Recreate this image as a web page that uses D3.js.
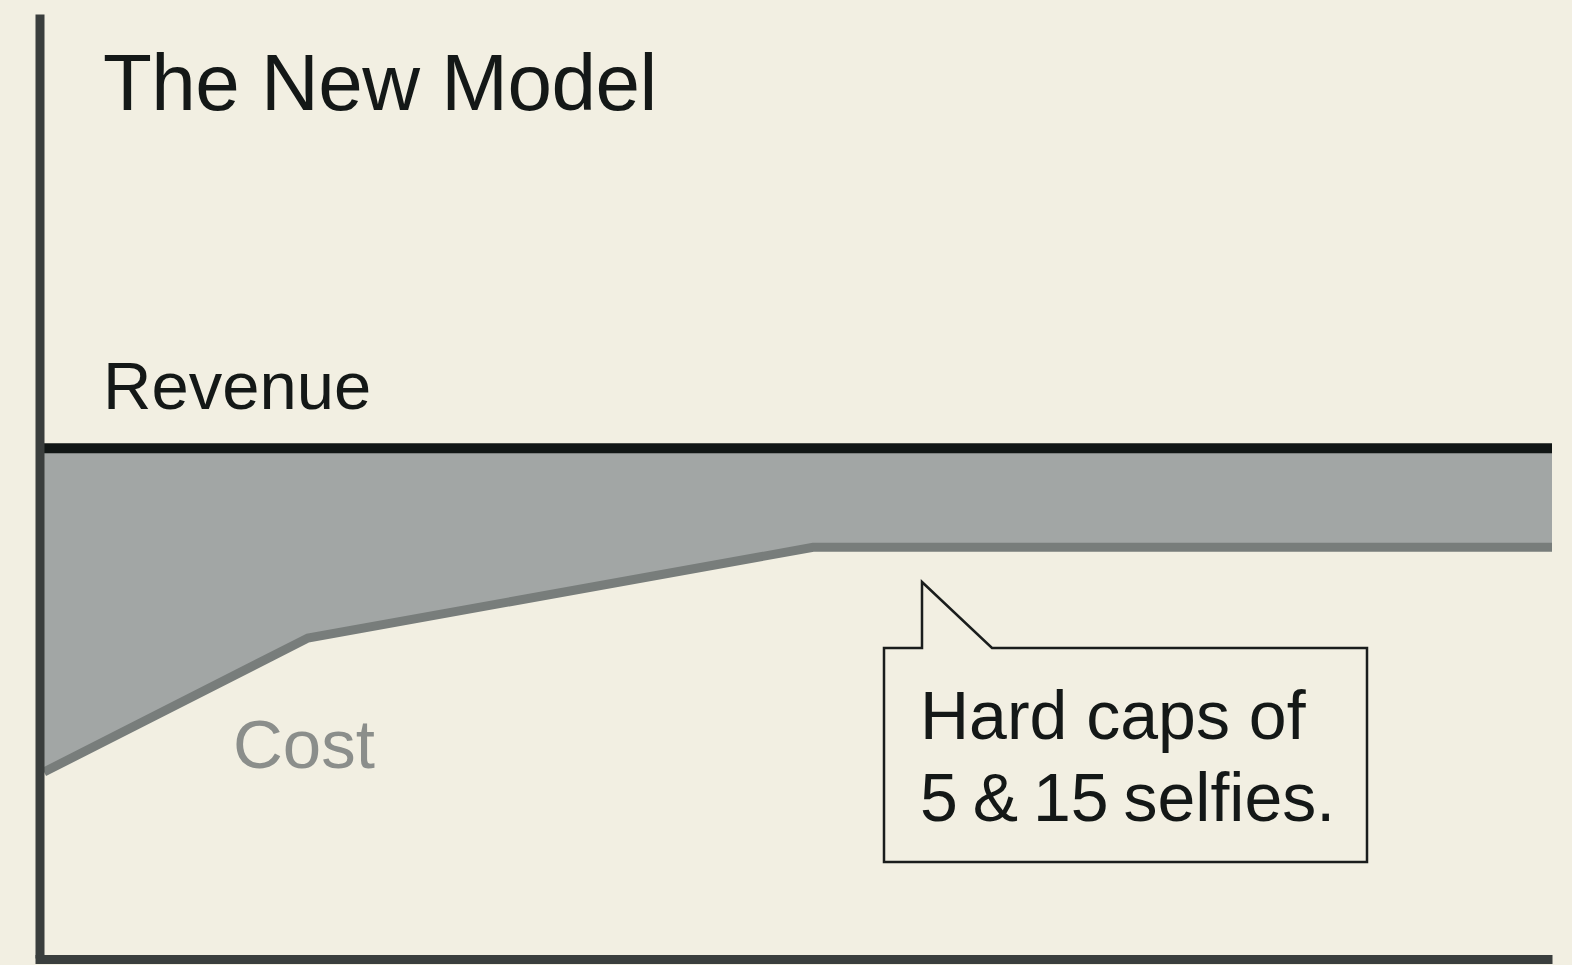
<!DOCTYPE html>
<html>
<head>
<meta charset="utf-8">
<script src="https://cdn.jsdelivr.net/npm/d3@7"></script>
<style>
  html, body { margin: 0; padding: 0; background: #f2efe2; }
  svg { display: block; font-family: "Liberation Sans", Arial, Helvetica, sans-serif; }
</style>
</head>
<body>
<div class="main"></div>
<script>
// usage (abstract units) along the x axis
const usage = [0, 17.5, 51, 100];
// revenue stays flat, cost drops then caps out
const revenue = [5.4, 5.4, 5.4, 5.4];
const cost = [1.97, 3.39, 4.35, 4.35];

const labels = {
  title: "The New Model",
  revenue: "Revenue",
  cost: "Cost",
  note: ["Hard caps of", "5 & 15 selfies."],
};

let fullwidth = 1572;
let fullheight = 965;

const svg = d3
  .select(".main")
  .append("svg")
  .attr("width", fullwidth)
  .attr("height", fullheight);

svg.append("rect")
  .attr("width", fullwidth)
  .attr("height", fullheight)
  .attr("fill", "#f2efe2");

const x = d3.scaleLinear().domain([0, 100]).range([44, 1552]);
const y = d3.scaleLinear().domain([0, 10]).range([958, 14]);

const data = usage.map((u, i) => ({ u: u, rev: revenue[i], cost: cost[i] }));

// gap between revenue and cost
svg.append("path")
  .datum(data)
  .attr("fill", "#a2a6a5")
  .attr("d", d3.area()
    .x((d) => x(d.u))
    .y0((d) => y(d.cost))
    .y1((d) => y(d.rev)));

// cost line
svg.append("path")
  .datum(data)
  .attr("fill", "none")
  .attr("stroke", "#787d7b")
  .attr("stroke-width", 9)
  .attr("d", d3.line().x((d) => x(d.u)).y((d) => y(d.cost)));

// revenue line
svg.append("path")
  .datum(data)
  .attr("fill", "none")
  .attr("stroke", "#111615")
  .attr("stroke-width", 10)
  .attr("d", d3.line().x((d) => x(d.u)).y((d) => y(d.rev)));

// axes, no ticks
const yAxis = svg.append("g")
  .attr("transform", "translate(39.5,0)")
  .call(d3.axisLeft(y).ticks(0).tickSizeOuter(0));
const xAxis = svg.append("g")
  .attr("transform", "translate(0,959)")
  .call(d3.axisBottom(d3.scaleLinear().range([35, 1552])).ticks(0).tickSizeOuter(0));
[yAxis, xAxis].forEach((a) => {
  a.select(".domain").attr("stroke", "#3a3e3d").attr("stroke-width", 9);
});

// texts
svg.append("text")
  .attr("x", 103)
  .attr("y", 110)
  .attr("font-size", 80)
  .attr("letter-spacing", -0.5)
  .attr("fill", "#141817")
  .text(labels.title);

svg.append("text")
  .attr("x", 103)
  .attr("y", 409)
  .attr("font-size", 67)
  .attr("fill", "#141817")
  .text(labels.revenue);

svg.append("text")
  .attr("x", 233)
  .attr("y", 768)
  .attr("font-size", 69)
  .attr("fill", "#8b8e8b")
  .text(labels.cost);

// speech bubble callout
const bx0 = 884, by0 = 648, bx1 = 1367, by1 = 862;
const bubble = d3.path();
bubble.moveTo(bx0, by0);
bubble.lineTo(922, by0);
bubble.lineTo(922, 582);
bubble.lineTo(992, by0);
bubble.lineTo(bx1, by0);
bubble.lineTo(bx1, by1);
bubble.lineTo(bx0, by1);
bubble.closePath();
svg.append("path")
  .attr("d", bubble.toString())
  .attr("fill", "#f2efe2")
  .attr("stroke", "#1a1d1c")
  .attr("stroke-width", 2.5);

svg.append("g")
  .selectAll("text")
  .data(labels.note)
  .join("text")
  .attr("x", 920)
  .attr("y", (d, i) => 739 + i * 82)
  .attr("font-size", 68)
  .attr("word-spacing", (d, i) => (i === 0 ? 0 : -4))
  .attr("fill", "#141817")
  .text((d) => d);
</script>
</body>
</html>
